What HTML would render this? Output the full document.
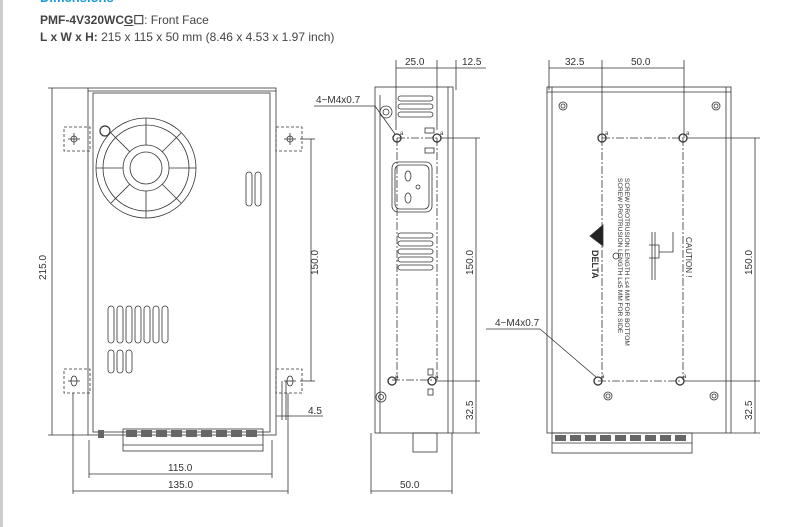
<!DOCTYPE html>
<html><head><meta charset="utf-8"><style>
body{margin:0;background:#fff;width:793px;height:527px;overflow:hidden;font-family:"Liberation Sans",sans-serif}
svg{position:absolute;left:0;top:0}
.t{position:absolute;left:40px;font-size:12px;color:#444;white-space:nowrap}
</style></head><body>
<div style="position:absolute;left:0;top:0;width:3px;height:527px;background:#ccc"></div>
<div class="t" style="top:-10px;color:#1a9ad6;font-weight:bold;font-size:13px">Dimensions</div>
<div class="t" style="top:13px"><b>PMF-4V320WC<u>G</u>☐</b>: Front Face</div>
<div class="t" style="top:30px"><b>L x W x H:</b> 215 x 115 x 50 mm (8.46 x 4.53 x 1.97 inch)</div>
<svg width="793" height="527" viewBox="0 0 793 527" font-family="Liberation Sans,sans-serif" font-size="10" fill="none" stroke="#333" stroke-width="0.8">
<!-- FRONT VIEW -->
<rect x="88" y="88" width="188" height="347"/>
<rect x="93" y="93" width="177" height="339"/>
<line x1="88" y1="91" x2="276" y2="91"/>
<g stroke-dasharray="3,2">
<rect x="64" y="127" width="26" height="24"/><rect x="276" y="127" width="26" height="24"/>
<rect x="64" y="369" width="26" height="24"/><rect x="276" y="369" width="26" height="24"/>
</g>
<g><circle cx="74" cy="139" r="3"/><line x1="74" y1="133" x2="74" y2="145"/><line x1="68" y1="139" x2="80" y2="139"/>
<circle cx="290" cy="139" r="3"/><line x1="290" y1="133" x2="290" y2="145"/><line x1="284" y1="139" x2="296" y2="139"/>
<ellipse cx="74" cy="381" rx="3" ry="5"/><line x1="68" y1="381" x2="80" y2="381"/>
<ellipse cx="290" cy="381" rx="3" ry="5"/><line x1="284" y1="381" x2="296" y2="381"/></g>
<circle cx="105" cy="131" r="5" stroke-width="1.2"/>
<circle cx="146" cy="168" r="50"/><circle cx="146" cy="168" r="43"/>
<circle cx="146" cy="168" r="23"/><circle cx="146" cy="168" r="16"/>
<g stroke-width="0.8"><line x1="146" y1="118" x2="146" y2="145"/><line x1="146" y1="191" x2="146" y2="218"/><line x1="96" y1="168" x2="123" y2="168"/><line x1="169" y1="168" x2="196" y2="168"/>
<line x1="111" y1="133" x2="130" y2="152"/><line x1="162" y1="184" x2="181" y2="203"/><line x1="181" y1="133" x2="162" y2="152"/><line x1="130" y1="184" x2="111" y2="203"/></g>
<rect x="246" y="172" width="6" height="34" rx="3"/><rect x="255" y="172" width="6" height="34" rx="3"/>
<g><rect x="108" y="306" width="6" height="37" rx="3"/><rect x="117" y="306" width="6" height="37" rx="3"/><rect x="126" y="306" width="6" height="37" rx="3"/><rect x="135" y="306" width="6" height="37" rx="3"/><rect x="144" y="306" width="6" height="37" rx="3"/><rect x="153" y="306" width="6" height="37" rx="3"/><rect x="162" y="306" width="6" height="37" rx="3"/>
<rect x="108" y="350" width="6" height="23" rx="3"/><rect x="117" y="350" width="6" height="23" rx="3"/><rect x="126" y="350" width="6" height="23" rx="3"/></g>
<rect x="123" y="429" width="140" height="22"/><line x1="123" y1="445" x2="263" y2="445"/>
<g fill="#666" stroke="none"><rect x="126" y="430" width="11" height="7"/><rect x="141" y="430" width="11" height="7"/><rect x="156" y="430" width="11" height="7"/><rect x="171" y="430" width="11" height="7"/><rect x="186" y="430" width="11" height="7"/><rect x="201" y="430" width="11" height="7"/><rect x="216" y="430" width="11" height="7"/><rect x="231" y="430" width="11" height="7"/><rect x="246" y="430" width="11" height="7"/><rect x="98" y="430" width="6" height="8"/></g>
<!-- front dims -->
<line x1="48" y1="88" x2="88" y2="88"/><line x1="48" y1="435" x2="88" y2="435"/><line x1="52" y1="88" x2="52" y2="435"/>
<line x1="300" y1="139" x2="315" y2="139"/><line x1="300" y1="381" x2="315" y2="381"/><line x1="311" y1="139" x2="311" y2="381"/>
<line x1="282" y1="381" x2="282" y2="420"/><line x1="286" y1="381" x2="286" y2="420"/><line x1="276" y1="416" x2="323" y2="416"/>
<line x1="89" y1="440" x2="89" y2="478"/><line x1="272" y1="440" x2="272" y2="478"/><line x1="89" y1="474" x2="272" y2="474"/>
<line x1="73" y1="393" x2="73" y2="494"/><line x1="288" y1="393" x2="288" y2="494"/><line x1="73" y1="491" x2="288" y2="491"/>
<!-- SIDE VIEW -->
<rect x="375" y="87" width="78" height="346"/><line x1="380" y1="95" x2="380" y2="433"/><line x1="448" y1="87" x2="448" y2="433"/>
<rect x="413" y="433" width="24" height="19"/>
<circle cx="386" cy="112" r="6"/><circle cx="386" cy="112" r="3"/>
<circle cx="381" cy="397" r="5"/><circle cx="381" cy="397" r="2.5"/>
<g><rect x="398" y="96" width="35" height="5" rx="2.5"/><rect x="398" y="104" width="35" height="5" rx="2.5"/><rect x="398" y="112" width="35" height="5" rx="2.5"/>
<rect x="398" y="233" width="35" height="5" rx="2.5"/><rect x="398" y="241" width="35" height="5" rx="2.5"/><rect x="398" y="249" width="35" height="5" rx="2.5"/><rect x="398" y="257" width="35" height="5" rx="2.5"/><rect x="398" y="265" width="35" height="5" rx="2.5"/>
<rect x="425" y="128" width="9" height="5"/><rect x="425" y="148" width="9" height="5"/><rect x="428" y="369" width="5" height="6"/><rect x="428" y="389" width="5" height="6"/></g>
<rect x="392" y="162" width="40" height="50" rx="6"/><rect x="395" y="165" width="34" height="44" rx="5"/>
<ellipse cx="408" cy="176" rx="3" ry="5"/><ellipse cx="408" cy="198" rx="3" ry="5"/><circle cx="418" cy="187" r="2"/>
<g stroke-dasharray="8,2,2,2"><line x1="397" y1="138" x2="397" y2="380"/><line x1="437" y1="138" x2="437" y2="380"/><line x1="397" y1="138" x2="437" y2="138"/><line x1="392" y1="380" x2="432" y2="380"/></g>
<g stroke-width="1.3"><circle cx="397" cy="138" r="4"/><circle cx="437" cy="138" r="4"/><circle cx="392" cy="381" r="4"/><circle cx="432" cy="381" r="4"/></g>
<line x1="314" y1="106" x2="375" y2="106"/><line x1="375" y1="106" x2="395" y2="134"/>
<line x1="396" y1="60" x2="396" y2="130"/><line x1="437" y1="60" x2="437" y2="130"/><line x1="456" y1="60" x2="456" y2="90"/><line x1="396" y1="68" x2="486" y2="68"/>
<line x1="441" y1="138" x2="480" y2="138"/><line x1="436" y1="381" x2="480" y2="381"/><line x1="453" y1="433" x2="480" y2="433"/><line x1="476" y1="138" x2="476" y2="433"/>
<line x1="371" y1="433" x2="371" y2="494"/><line x1="452" y1="433" x2="452" y2="494"/><line x1="371" y1="491" x2="452" y2="491"/>
<!-- BACK VIEW -->
<rect x="547" y="87" width="184" height="346"/><line x1="552" y1="87" x2="552" y2="433"/><line x1="726" y1="87" x2="726" y2="433"/><line x1="547" y1="92" x2="731" y2="92"/>
<circle cx="563" cy="106" r="4"/><circle cx="563" cy="106" r="2"/><circle cx="716" cy="106" r="4"/><circle cx="716" cy="106" r="2"/>
<circle cx="608" cy="396" r="4"/><circle cx="608" cy="396" r="2"/><circle cx="714" cy="396" r="4"/><circle cx="714" cy="396" r="2"/>
<circle cx="616" cy="256" r="3"/>
<g stroke-dasharray="8,2,2,2"><line x1="602" y1="138" x2="602" y2="380"/><line x1="683" y1="138" x2="683" y2="380"/><line x1="602" y1="138" x2="683" y2="138"/><line x1="598" y1="381" x2="680" y2="381"/></g>
<g stroke-width="1.3"><circle cx="602" cy="138" r="4"/><circle cx="683" cy="138" r="4"/><circle cx="598" cy="381" r="4"/><circle cx="680" cy="381" r="4"/></g>
<path d="M652 232 V280 M655 232 V280 M649 245 h10 v13 h-10 M659 252 h14 v-20"/>
<path d="M590 236 L603 225 L603 246 Z" fill="#222"/>
<rect x="552" y="433" width="140" height="20"/><line x1="552" y1="443" x2="692" y2="443"/>
<g fill="#666" stroke="none"><rect x="555" y="435" width="11" height="6"/><rect x="570" y="435" width="11" height="6"/><rect x="585" y="435" width="11" height="6"/><rect x="600" y="435" width="11" height="6"/><rect x="615" y="435" width="11" height="6"/><rect x="630" y="435" width="11" height="6"/><rect x="645" y="435" width="11" height="6"/><rect x="660" y="435" width="11" height="6"/><rect x="675" y="435" width="11" height="6"/></g>
<line x1="486" y1="329" x2="540" y2="329"/><line x1="540" y1="329" x2="596" y2="377"/>
<line x1="549" y1="60" x2="549" y2="90"/><line x1="602" y1="60" x2="602" y2="138"/><line x1="684" y1="60" x2="684" y2="138"/><line x1="549" y1="68" x2="684" y2="68"/>
<line x1="687" y1="138" x2="760" y2="138"/><line x1="684" y1="381" x2="760" y2="381"/><line x1="731" y1="433" x2="760" y2="433"/><line x1="755" y1="138" x2="755" y2="433"/>
<!-- text -->
<g fill="#333" stroke="none">
<text x="46" y="280" transform="rotate(-90 46 280)">215.0</text>
<text x="318" y="275" transform="rotate(-90 318 275)">150.0</text>
<text x="308" y="414">4.5</text>
<text x="168" y="471">115.0</text>
<text x="168" y="488">135.0</text>
<text x="405" y="65">25.0</text><text x="462" y="65">12.5</text>
<text x="316" y="103">4−M4x0.7</text>
<text x="473" y="275" transform="rotate(-90 473 275)">150.0</text>
<text x="473" y="420" transform="rotate(-90 473 420)">32.5</text>
<text x="400" y="488">50.0</text>
<text x="565" y="65">32.5</text><text x="631" y="65">50.0</text>
<text x="495" y="326">4−M4x0.7</text>
<text x="752" y="275" transform="rotate(-90 752 275)">150.0</text>
<text x="752" y="420" transform="rotate(-90 752 420)">32.5</text>
<text x="625" y="178" transform="rotate(90 625 178)" font-size="6.5">SCREW PROTRUSION LENGTH L≤4 MM FOR BOTTOM</text>
<text x="618" y="178" transform="rotate(90 618 178)" font-size="6.5">SCREW PROTRUSION LENGTH L≤5 MM FOR SIDE</text>
<text x="686" y="237" transform="rotate(90 686 237)" font-size="8">CAUTION !</text>
<text x="592" y="250" transform="rotate(90 592 250)" font-size="9" font-weight="bold">DELTA</text>
<g font-size="6"><text x="400" y="135">a</text><text x="440" y="135">a</text><text x="395" y="378">a</text><text x="435" y="378">a</text><text x="605" y="135">a</text><text x="686" y="135">a</text><text x="601" y="378">a</text><text x="683" y="378">a</text></g>
</g>
</svg>
</body></html>
